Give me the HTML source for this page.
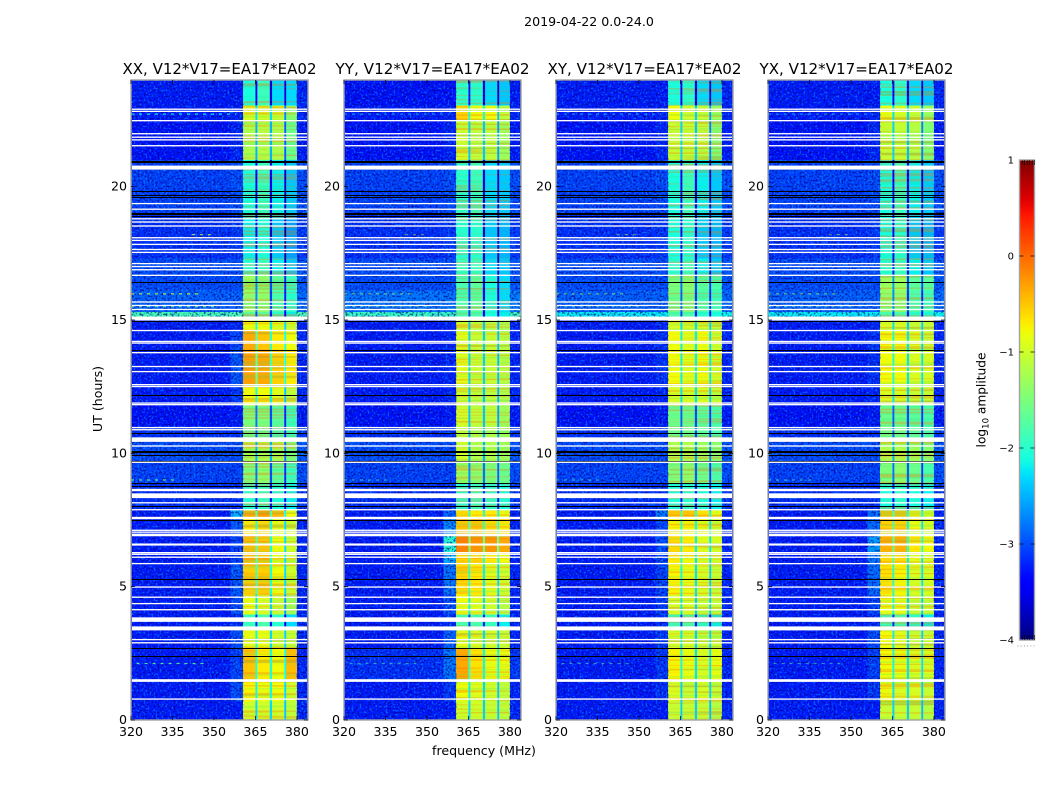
<!DOCTYPE html>
<html lang="en">
<head>
<meta charset="utf-8">
<title>2019-04-22 cross-power spectrogram</title>
<style>
html,body{margin:0;padding:0;background:#fff;}
svg{display:block;}
text{font-family:"DejaVu Sans","Liberation Sans",sans-serif;fill:#000;}
</style>
</head>
<body>
<svg id="figure" xmlns="http://www.w3.org/2000/svg" width="1050" height="800" viewBox="0 0 1050 800">
  <defs>
    <filter id="speckLight" x="0" y="0" width="100%" height="100%" color-interpolation-filters="sRGB">
      <feTurbulence type="fractalNoise" baseFrequency="0.5 0.5" numOctaves="1" seed="4"/>
      <feColorMatrix type="matrix" values="0 0 0 0 0  0 0 0 0 0.62  0 0 0 0 1  7 0 0 0 -3.7"/>
    </filter>
    <filter id="speckDark" x="0" y="0" width="100%" height="100%" color-interpolation-filters="sRGB">
      <feTurbulence type="fractalNoise" baseFrequency="0.5 0.5" numOctaves="1" seed="11"/>
      <feColorMatrix type="matrix" values="0 0 0 0 0  0 0 0 0 0  0 0 0 0 0.55  7 0 0 0 -3.5"/>
    </filter>
    <filter id="stripeWarm" x="0" y="0" width="100%" height="100%" color-interpolation-filters="sRGB">
      <feTurbulence type="fractalNoise" baseFrequency="0.006 0.42" numOctaves="1" seed="7"/>
      <feColorMatrix type="matrix" values="0 0 0 0 1  0 0 0 0 0.45  0 0 0 0 0  8 0 0 0 -4.1"/>
    </filter>
    <filter id="stripeCool" x="0" y="0" width="100%" height="100%" color-interpolation-filters="sRGB">
      <feTurbulence type="fractalNoise" baseFrequency="0.006 0.42" numOctaves="1" seed="19"/>
      <feColorMatrix type="matrix" values="0 0 0 0 0.1  0 0 0 0 0.85  0 0 0 0 0.5  8 0 0 0 -4.2"/>
    </filter>
    <linearGradient id="jetGradient" x1="0" y1="1" x2="0" y2="0"></linearGradient>
  </defs>
  <text x="589" y="26" font-size="12.6" text-anchor="middle">2019-04-22 0.0-24.0</text>
  <text x="0" y="0" font-size="12.6" text-anchor="middle" transform="translate(102,399) rotate(-90)">UT (hours)</text>
  <text x="484" y="755" font-size="12.6" text-anchor="middle">frequency (MHz)</text>
  <g id="panels"></g>
  <g id="colorbar"></g>
  <text x="0" y="0" font-size="12.2" text-anchor="middle" transform="translate(985.5,400) rotate(-90)">log<tspan font-size="8.5" dy="3">10</tspan><tspan dy="-3"> amplitude</tspan></text>
</svg>
<script>
// ---------- data ----------
const panelTitles = ["XX, V12*V17=EA17*EA02", "YY, V12*V17=EA17*EA02", "XY, V12*V17=EA17*EA02", "YX, V12*V17=EA17*EA02"];
const xTickLabels = [320, 335, 350, 365, 380];
const yTickLabels = [0, 5, 10, 15, 20];
const colorbarTickLabels = [1, 0, -1, -2, -3, -4];
// hour at which each time segment starts (top edge), plus the final edge
const segmentHours = [24, 23.05, 22.5, 21, 19, 17.3, 16.7, 16.1, 15.3, 15, 14.6, 13.9, 12.6, 11.8, 11, 10.6, 9.66, 8.85, 7.85, 7.6, 7, 6.3, 5.9, 4.7, 3.95, 3.4, 2.7, 1.5, 0.7, 0];
// log10 amplitude per segment: [background, shoulder, band1, band2, band3, band4]
const xxAmplitude = [
 [-3.25,-3.25,-2.1,-1.9,-2.3,-2.3],[-3.25,-3.2,-0.9,-0.95,-1.0,-1.4],[-3.3,-3.2,-1.2,-1.15,-1.2,-1.6],
 [-3.05,-3.0,-2.1,-1.9,-2.2,-2.4],[-3.15,-3.1,-2.2,-2.1,-2.4,-2.6],[-3.0,-3.0,-2.0,-1.9,-2.2,-2.4],
 [-3.0,-3.0,-1.3,-1.4,-1.7,-1.9],[-2.9,-2.9,-1.4,-1.4,-1.8,-2.0],[-1.8,-1.8,-1.7,-1.7,-2.0,-2.2],
 [-3.25,-3.2,-0.8,-0.8,-0.9,-1.0],[-3.25,-3.05,-0.35,-0.5,-0.7,-0.8],[-3.25,-2.95,-0.3,-0.35,-0.55,-0.7],
 [-3.25,-3.1,-0.8,-0.8,-0.9,-1.1],[-3.3,-3.25,-1.5,-1.5,-1.7,-1.9],[-3.15,-3.15,-1.6,-1.6,-1.8,-1.9],
 [-3.0,-3.0,-1.2,-1.2,-1.2,-1.5],[-3.05,-3.05,-1.5,-1.4,-1.7,-1.9],[-3.15,-3.15,-2.0,-1.9,-2.1,-2.2],
 [-3.25,-2.5,-0.4,-0.3,-0.45,-0.8],[-3.25,-2.95,-0.7,-0.6,-0.85,-1.0],[-3.25,-3.05,-0.45,-0.5,-0.8,-1.0],[-3.25,-3.05,-0.45,-0.5,-0.8,-1.0],
 [-3.25,-2.95,-0.55,-0.55,-0.8,-1.0],[-3.25,-3.0,-0.85,-0.95,-1.05,-1.3],[-3.25,-3.15,-1.9,-1.8,-2.0,-2.3],
 [-3.25,-3.0,-0.85,-0.85,-1.0,-1.05],[-3.25,-3.05,-0.5,-0.7,-0.8,-0.45],[-3.25,-3.0,-0.75,-0.85,-0.8,-1.0],
 [-3.25,-3.25,-1.0,-1.0,-1.0,-1.1]
];
const yyAmplitude = [
 [-3.3,-3.3,-2.0,-2.0,-2.3,-2.4],[-3.25,-3.2,-0.6,-0.8,-0.8,-1.1],[-3.3,-3.2,-1.0,-1.1,-1.1,-1.3],
 [-3.05,-3.0,-2.0,-1.9,-2.3,-2.4],[-3.15,-3.1,-2.0,-2.0,-2.4,-2.5],[-3.0,-3.0,-1.9,-1.9,-2.3,-2.4],
 [-3.0,-3.0,-1.8,-1.7,-2.1,-2.3],[-2.8,-2.8,-1.8,-1.7,-2.1,-2.3],[-1.9,-1.9,-1.8,-1.8,-2.1,-2.2],
 [-3.25,-3.2,-1.0,-1.1,-1.1,-1.2],[-3.25,-3.2,-0.9,-1.05,-1.05,-1.15],[-3.25,-3.2,-0.9,-1.05,-1.05,-1.15],
 [-3.25,-3.2,-1.0,-1.1,-1.1,-1.2],[-3.3,-3.25,-1.0,-1.1,-1.1,-1.3],[-3.15,-3.15,-1.1,-1.2,-1.2,-1.3],
 [-3.0,-3.0,-1.0,-1.2,-1.2,-1.3],[-3.05,-3.05,-1.3,-1.4,-1.5,-1.6],[-3.15,-3.15,-2.0,-1.9,-2.0,-2.1],
 [-3.25,-2.9,-0.6,-0.7,-0.7,-0.85],[-3.25,-2.7,-0.5,-0.5,-0.6,-0.7],[-3.25,-2.0,-0.15,-0.25,-0.25,-0.35],[-3.25,-2.5,-0.6,-0.6,-0.7,-0.8],
 [-3.25,-2.8,-0.6,-0.7,-0.9,-1.0],[-3.25,-3.0,-0.8,-0.9,-1.0,-1.15],[-3.25,-3.15,-1.8,-1.8,-1.9,-2.2],
 [-3.25,-2.9,-0.85,-0.95,-1.0,-1.05],[-3.15,-2.8,-0.35,-0.65,-0.85,-0.85],[-3.25,-3.1,-0.8,-0.9,-1.0,-1.1],
 [-3.25,-3.25,-1.0,-1.0,-1.05,-1.1]
];
const xyAmplitude = [
 [-3.25,-3.25,-2.1,-2.0,-2.3,-2.4],[-3.25,-3.2,-0.8,-1.0,-1.05,-1.3],[-3.3,-3.2,-1.05,-1.05,-1.1,-1.45],
 [-3.05,-3.0,-2.1,-1.9,-2.2,-2.4],[-3.15,-3.1,-2.1,-2.0,-2.4,-2.5],[-3.0,-3.0,-2.0,-1.9,-2.2,-2.4],
 [-3.0,-3.0,-1.5,-1.4,-1.7,-1.8],[-2.9,-2.9,-1.6,-1.5,-1.8,-1.9],[-2.2,-2.2,-1.8,-1.8,-2.0,-2.1],
 [-3.25,-3.2,-0.95,-0.95,-0.95,-1.05],[-3.25,-3.15,-0.8,-0.9,-0.8,-1.0],[-3.25,-3.15,-0.8,-0.9,-0.8,-0.95],
 [-3.25,-3.2,-0.95,-0.95,-0.95,-1.05],[-3.3,-3.25,-1.6,-1.6,-1.7,-1.8],[-3.15,-3.15,-1.6,-1.6,-1.7,-1.8],
 [-3.0,-3.0,-1.2,-1.2,-1.3,-1.4],[-3.05,-3.05,-1.5,-1.4,-1.6,-1.8],[-3.15,-3.15,-2.1,-2.0,-2.1,-2.2],
 [-3.25,-2.8,-0.5,-0.5,-0.65,-0.85],[-3.25,-3.05,-0.75,-0.75,-0.85,-0.95],[-3.25,-3.0,-0.6,-0.7,-0.9,-0.95],[-3.25,-3.05,-0.7,-0.8,-0.95,-0.95],
 [-3.25,-3.05,-0.75,-0.85,-0.95,-1.05],[-3.25,-3.1,-0.95,-0.95,-1.05,-1.05],[-3.25,-3.15,-1.9,-1.8,-2.0,-2.2],
 [-3.25,-3.1,-0.95,-0.95,-1.05,-1.05],[-3.25,-3.1,-0.75,-0.85,-0.95,-0.85],[-3.25,-3.15,-0.95,-1.05,-0.95,-1.05],
 [-3.25,-3.25,-1.05,-1.05,-1.05,-1.15]
];
const yxAmplitude = [
 [-3.25,-3.25,-2.1,-2.0,-2.3,-2.4],[-3.25,-3.2,-0.85,-0.95,-1.05,-1.3],[-3.3,-3.2,-1.05,-1.05,-1.15,-1.45],
 [-3.05,-3.0,-2.1,-1.9,-2.2,-2.4],[-3.15,-3.1,-2.1,-2.0,-2.4,-2.5],[-3.0,-3.0,-2.0,-1.9,-2.2,-2.4],
 [-3.0,-3.0,-1.3,-1.3,-1.7,-1.7],[-2.9,-2.9,-1.4,-1.4,-1.8,-1.9],[-2.2,-2.2,-1.8,-1.8,-2.0,-2.1],
 [-3.25,-3.2,-0.95,-0.95,-1.05,-1.05],[-3.25,-3.15,-0.8,-0.8,-0.95,-1.05],[-3.25,-3.15,-0.8,-0.8,-0.95,-0.95],
 [-3.25,-3.2,-0.95,-0.95,-1.05,-1.05],[-3.3,-3.25,-1.6,-1.6,-1.7,-1.8],[-3.15,-3.15,-1.6,-1.6,-1.7,-1.8],
 [-3.0,-3.0,-1.2,-1.2,-1.3,-1.4],[-3.05,-3.05,-1.5,-1.4,-1.6,-1.8],[-3.15,-3.15,-2.1,-2.0,-2.1,-2.2],
 [-3.25,-2.85,-0.5,-0.5,-0.7,-0.85],[-3.25,-2.85,-0.55,-0.55,-0.85,-0.95],[-3.25,-2.6,-0.4,-0.4,-0.7,-0.8],[-3.25,-2.8,-0.6,-0.6,-0.9,-0.95],
 [-3.25,-2.85,-0.65,-0.75,-0.95,-0.95],[-3.25,-3.05,-0.85,-0.85,-1.05,-1.05],[-3.25,-3.15,-1.9,-1.8,-2.0,-2.2],
 [-3.25,-3.0,-0.8,-0.9,-1.05,-1.05],[-3.25,-3.05,-0.8,-0.85,-0.95,-0.95],[-3.25,-3.1,-0.85,-0.95,-0.95,-1.05],
 [-3.25,-3.25,-1.05,-1.05,-1.05,-1.15]
];
const panelAmplitudes = [xxAmplitude, yyAmplitude, xyAmplitude, yxAmplitude];
// frequency edges in MHz of: background, shoulder, band1, gap, band2, gap, band3, gap, band4, right edge
const channelEdges = [320, 356, 360.5, 365, 365.7, 370.2, 371, 375.4, 376.1, 380, 384];
// flagged (blank) hours: start and end of each blanked interval
const flaggedStart = [22.93,22.85,22.5,22.01,21.88,21.78,21.56,20.79,19.39,19.18,18.82,18.7,18.55,18.11,18.01,17.86,17.67,17.56,17.14,17.03,16.91,16.7,15.7,15.57,15.42,15.13,14.63,14.22,14.16,13.8,13.28,13.09,12.6,12.53,11.91,11.85,10.99,10.91,10.6,10.3,9.69,8.67,8.5,8.17,7.91,7.62,7.14,7.07,6.99,6.62,6.3,6.24,6.13,5.89,5.01,4.63,4.39,4.16,3.85,3.51,3.04,2.92,1.53,0.81];
const flaggedEnd = [22.88,22.8,22.45,21.96,21.83,21.73,21.51,20.64,19.34,19.13,18.77,18.65,18.5,18.06,17.96,17.81,17.62,17.51,17.09,16.98,16.86,16.65,15.65,15.52,15.37,14.98,14.58,14.17,14.11,13.75,13.23,13.04,12.55,12.48,11.86,11.8,10.94,10.86,10.43,10.25,9.64,8.58,8.32,8.12,7.86,7.53,7.09,7.02,6.89,6.54,6.25,6.19,6.08,5.84,4.96,4.58,4.34,4.11,3.68,3.36,2.99,2.87,1.43,0.76];
// hours containing zero-valued (black) integrations
const zeroHours = [20.98,20.94,19.83,19.7,19.6,19.03,18.99,18.89,16.44,14.95,13.88,12.2,10.75,10.1,10.04,9.92,9.73,8.89,8.79,8.04,7.51,5.29,2.69,2.41];
// narrow-band interference streaks
const streakHours = [22.72, 18.96, 18.2, 15.98, 15.5, 9.0, 2.12];
const streakStart = [320, 320, 342, 320, 320, 320, 322];
const streakEnd = [358, 358, 350, 345, 350, 336, 348];
const streakAmplitude = [-2.1, -1.5, -1.0, -1.0, -1.6, -1.6, -1.7];
const colorbarMinorDots = [0, 1, 2, 3, 4, 5];

// ---------- axes ----------
const svgNS = "http://www.w3.org/2000/svg";
const panelLeft = [131, 344, 556, 768];
const panelWidth = 177;
const plotTop = 80, plotBottom = 720;
const gapOffset = -1.3;
const xScale = (p, mhz) => panelLeft[p] + (mhz - 320) / 64 * panelWidth;
const yScale = hour => plotBottom - (hour / 24) * (plotBottom - plotTop);
function jet(t) {
  t = Math.max(0, Math.min(1, t));
  const seg = (pts) => {
    for (let i = 1; i < pts.length; i++) {
      if (t <= pts[i][0]) {
        const a = pts[i - 1], b = pts[i];
        return a[1] + (b[1] - a[1]) * (t - a[0]) / (b[0] - a[0]);
      }
    }
    return pts[pts.length - 1][1];
  };
  const r = seg([[0,0],[0.35,0],[0.66,1],[0.89,1],[1,0.5]]);
  const g = seg([[0,0],[0.125,0],[0.375,1],[0.64,1],[0.91,0],[1,0]]);
  const b = seg([[0,0.5],[0.11,1],[0.34,1],[0.65,0],[1,0]]);
  return "rgb(" + Math.round(r * 255) + "," + Math.round(g * 255) + "," + Math.round(b * 255) + ")";
}
const colorOf = v => jet((v + 4) / 5);
function mk(tag, parent) {
  const el = document.createElementNS(svgNS, tag);
  parent.appendChild(el);
  return el;
}
function setRect(el, x, y, w, h, fill) {
  el.setAttribute("x", x);
  el.setAttribute("y", y);
  el.setAttribute("width", w);
  el.setAttribute("height", h);
  el.setAttribute("fill", fill);
}
function setLine(el, x1, y1, x2, y2, stroke, sw) {
  el.setAttribute("x1", x1);
  el.setAttribute("y1", y1);
  el.setAttribute("x2", x2);
  el.setAttribute("y2", y2);
  el.setAttribute("stroke", stroke);
  el.setAttribute("stroke-width", sw);
}

// ---------- panels ----------
const panelsRoot = document.getElementById("panels");
const defs = document.querySelector("defs");
panelTitles.forEach((title, p) => {
  const left = panelLeft[p];
  const g = mk("g", panelsRoot);
  
  

  const clip = mk("clipPath", defs);
  clip.setAttribute("id", "clip" + p);
  const clipRect = mk("rect", clip);
  setRect(clipRect, left, plotTop, panelWidth, plotBottom - plotTop, "#000");

  const heat = mk("g", g);
  
  
  heat.setAttribute("clip-path", "url(#clip" + p + ")");

  const amps = panelAmplitudes[p];
  const gapCells = [];
  for (let s = 0; s < amps.length; s++) {
    const row = amps[s];
    const y0 = yScale(segmentHours[s]);
    const y1 = yScale(segmentHours[s + 1]);
    const g1 = Math.min(row[2], row[3]) + gapOffset;
    const g2 = Math.min(row[3], row[4]) + gapOffset;
    const g3 = Math.min(row[4], row[5]) + gapOffset;
    const values = [row[0], row[1], row[2], g1, row[3], g2, row[4], g3, row[5], row[0] + 0.05];
    for (let c = 0; c < values.length; c++) {
      const x0 = xScale(p, channelEdges[c]);
      const x1 = xScale(p, channelEdges[c + 1]);
      if (c === 3 || c === 5 || c === 7) {
        gapCells.push([x0, y0, x1 - x0, y1 - y0 + 0.4, colorOf(values[c])]);
        continue;
      }
      const cell = mk("rect", heat);
      setRect(cell, x0, y0, x1 - x0, y1 - y0 + 0.4, colorOf(values[c]));
      cell.setAttribute("shape-rendering", "crispEdges");
      
      
    }
  }

  // background noise texture
  const bgEnd = xScale(p, channelEdges[2]);
  const bandEnd = xScale(p, channelEdges[9]);
  const right = left + panelWidth;
  const textureH = plotBottom - plotTop;
  [[left, bgEnd - left], [bandEnd, right - bandEnd]].forEach(area => {
    const light = mk("rect", heat);
    setRect(light, area[0], plotTop, area[1], textureH, "#000");
    light.setAttribute("filter", "url(#speckLight)");
    light.setAttribute("opacity", "0.5");
    
    
    const dark = mk("rect", heat);
    setRect(dark, area[0], plotTop, area[1], textureH, "#000");
    dark.setAttribute("filter", "url(#speckDark)");
    dark.setAttribute("opacity", "0.6");
    
    
  });
  // band stripes
  const warm = mk("rect", heat);
  setRect(warm, bgEnd, plotTop, bandEnd - bgEnd, textureH, "#000");
  warm.setAttribute("filter", "url(#stripeWarm)");
  warm.setAttribute("opacity", "0.35");
  
  
  const cool = mk("rect", heat);
  setRect(cool, bgEnd, plotTop, bandEnd - bgEnd, textureH, "#000");
  cool.setAttribute("filter", "url(#stripeCool)");
  cool.setAttribute("opacity", "0.18");
  
  

  gapCells.forEach(d => {
    const cell = mk("rect", heat);
    setRect(cell, d[0], d[1], d[2], d[3], d[4]);
    
    
  });

  streakHours.forEach((h, i) => {
    const r = mk("line", heat);
    const y = yScale(h);
    setLine(r, xScale(p, streakStart[i]), y, xScale(p, streakEnd[i]), y, colorOf(streakAmplitude[i]), 1.2);
    r.setAttribute("stroke-dasharray", "3 5");
    r.setAttribute("opacity", p === 0 ? "0.85" : "0.5");
    
    
  });
  zeroHours.forEach(h => {
    const r = mk("rect", heat);
    setRect(r, left, Math.round(yScale(h)), panelWidth, 1, "#000");
    r.setAttribute("shape-rendering", "crispEdges");
    
    
  });
  flaggedStart.forEach((h, i) => {
    const y0 = yScale(h), y1 = yScale(flaggedEnd[i]);
    const r = mk("rect", heat);
    setRect(r, left + 1, y0, panelWidth - 2, y1 - y0, "#fff");
    
    
  });

  // spine
  const spine = mk("rect", g);
  setRect(spine, left, plotTop, panelWidth, plotBottom - plotTop, "none");
  spine.setAttribute("stroke", "#a2a2a2");
  spine.setAttribute("stroke-width", "1.4");
  
  

  // x ticks
  xTickLabels.forEach(v => {
    const x = xScale(p, v);
    const t1 = mk("line", g);
    setLine(t1, x, plotBottom, x, plotBottom - 4, "#000", 0.7);
    
    
    const t2 = mk("line", g);
    setLine(t2, x, plotTop, x, plotTop + 4, "#000", 0.7);
    
    
    const lab = mk("text", g);
    lab.setAttribute("x", x);
    lab.setAttribute("y", 736);
    lab.setAttribute("font-size", "12.6");
    lab.setAttribute("text-anchor", "middle");
    lab.textContent = v;
    
    
  });
  // y ticks
  yTickLabels.forEach(v => {
    const y = yScale(v);
    const t1 = mk("line", g);
    setLine(t1, left, y, left + 4, y, "#000", 0.7);
    
    
    const t2 = mk("line", g);
    setLine(t2, left + panelWidth, y, left + panelWidth - 4, y, "#000", 0.7);
    
    
    const lab = mk("text", g);
    lab.setAttribute("x", left - 4);
    lab.setAttribute("y", y + 4);
    lab.setAttribute("font-size", "12.6");
    lab.setAttribute("text-anchor", "end");
    lab.textContent = v;
    
    
  });
  // title
  const tt = mk("text", g);
  tt.setAttribute("x", left + panelWidth / 2);
  tt.setAttribute("y", 74);
  tt.setAttribute("font-size", "15");
  tt.setAttribute("text-anchor", "middle");
  tt.setAttribute("textLength", "194");
  tt.setAttribute("lengthAdjust", "spacingAndGlyphs");
  tt.textContent = title;
  
  
});

// ---------- colorbar ----------
const cbRoot = document.getElementById("colorbar");
const cbLeft = 1019.5, cbRight = 1034.5, cbTop = 160, cbBottom = 640;
const cbY = v => cbBottom - (v + 4) / 5 * (cbBottom - cbTop);
const grad = document.getElementById("jetGradient");
for (let i = 0; i <= 60; i++) {
  const st = mk("stop", grad);
  st.setAttribute("offset", (i / 60));
  st.setAttribute("stop-color", jet(i / 60));
}
const bar = mk("rect", cbRoot);
setRect(bar, cbLeft, cbTop, cbRight - cbLeft, cbBottom - cbTop, "url(#jetGradient)");
bar.setAttribute("stroke", "#a2a2a2");
bar.setAttribute("stroke-width", "1.4");


colorbarTickLabels.forEach(v => {
  const y = cbY(v);
  if (v > -4 && v < 1) {
    const a = mk("line", cbRoot);
    setLine(a, cbLeft, y, cbLeft + 4, y, "#000", 0.7);
    
    
    const b = mk("line", cbRoot);
    setLine(b, cbRight - 4, y, cbRight, y, "#000", 0.7);
    
    
  }
  const lab = mk("text", cbRoot);
  lab.setAttribute("x", 1014);
  lab.setAttribute("y", y + 3.5);
  lab.setAttribute("font-size", "10");
  lab.setAttribute("text-anchor", "end");
  lab.textContent = v < 0 ? "\u2212" + Math.abs(v) : String(v);
  
  
});
colorbarMinorDots.forEach(i => {
  const x = cbLeft + 2.7 + i * 2.5;
  const top = mk("line", cbRoot);
  setLine(top, x, cbTop, x, cbTop + 5, "#000", 0.6);
  
  
  const bot = mk("line", cbRoot);
  setLine(bot, x, cbBottom, x, cbBottom - 5, "#000", 0.6);
  
  
  const dot = mk("rect", cbRoot);
  setRect(dot, 1017.5 + i * 3.2, 645.5, 1, 1, "#9a9a9a");
  
  
});
</script>
</body>
</html>
